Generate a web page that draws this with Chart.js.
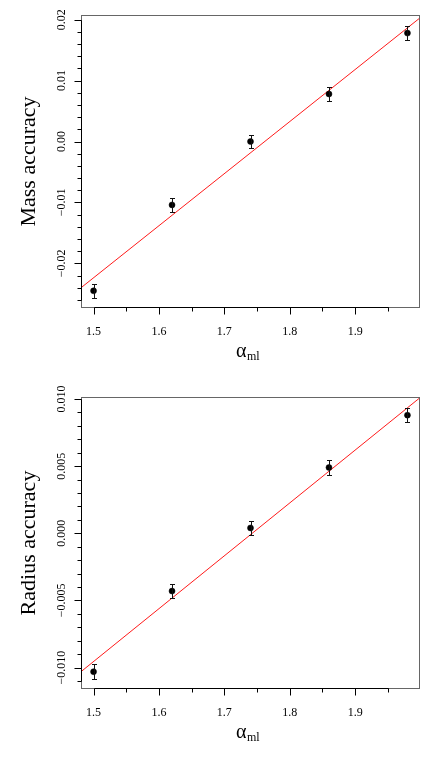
<!DOCTYPE html>
<html>
<head>
<meta charset="utf-8">
<title>Mass and radius accuracy against alpha_ml</title>
<script src="https://cdn.jsdelivr.net/npm/chart.js@4.4.1/dist/chart.umd.min.js"></script>
<style>
    body { margin: 0; background: #fff; }
    canvas { display: block; }
</style>
</head>
<body>
<canvas id="massChart" width="436" height="381"></canvas>
<canvas id="radiusChart" width="436" height="382"></canvas>
<script>
// ============================
// Data
// ============================
const alphaMl = [1.50, 1.62, 1.74, 1.86, 1.98];

const massAccuracy = [-0.0245, -0.0104, 0.0000, 0.0078, 0.0178];
const massError = [0.0011, 0.0011, 0.0011, 0.0011, 0.0011];
const massFit = [-0.0240, 0.0203];

const radiusAccuracy = [-0.0103, -0.0043, 0.0004, 0.0049, 0.0088];
const radiusError = [0.00055, 0.00055, 0.00055, 0.00055, 0.00053];
const radiusFit = [-0.0103, 0.0101];

// x axis range and ticks (fit line is drawn over the whole range)
const xRange = [1.4808, 1.9992];
const xTicks = [1.5, 1.55, 1.6, 1.65, 1.7, 1.75, 1.8, 1.85, 1.9, 1.95];
const xMajorTicks = [1.5, 1.6, 1.7, 1.8, 1.9];
const xTickLabels = ['1.5', '1.6', '1.7', '1.8', '1.9'];

// y axes
const massRange = [-0.02732, 0.02077];
const massTicks = [-0.026, -0.024, -0.022, -0.02, -0.018, -0.016, -0.014, -0.012, -0.01, -0.008, -0.006, -0.004, -0.002,
    0, 0.002, 0.004, 0.006, 0.008, 0.01, 0.012, 0.014, 0.016, 0.018, 0.02];
const massMajorTicks = [-0.02, -0.01, 0, 0.01, 0.02];
const massTickLabels = ['\u22120.02', '\u22120.01', '0.00', '0.01', '0.02'];

const radiusRange = [-0.01159, 0.01015];
const radiusTicks = [-0.011, -0.01, -0.009, -0.008, -0.007, -0.006, -0.005, -0.004, -0.003, -0.002, -0.001,
    0, 0.001, 0.002, 0.003, 0.004, 0.005, 0.006, 0.007, 0.008, 0.009, 0.01];
const radiusMajorTicks = [-0.01, -0.005, 0, 0.005, 0.01];
const radiusTickLabels = ['\u22120.010', '\u22120.005', '0.000', '0.005', '0.010'];

const SERIF = '"Liberation Serif", "Times New Roman", serif';

function isMajor(v, majors) {
    return majors.some(m => Math.abs(m - v) < 1e-9);
}

// ============================
// R-like axes, box, error bars
// ============================
const rStyleAxes = {
    id: 'rStyleAxes',
    afterDatasetsDraw(chart, args, opts) {
        const ctx = chart.ctx;
        const xs = chart.scales.x, ys = chart.scales.y;
        ctx.save();
        ctx.strokeStyle = '#111';
        ctx.lineWidth = 1;
        chart.data.datasets[0].data.forEach((p, i) => {
            const px = Math.round(xs.getPixelForValue(p.x)) + 0.5;
            const top = Math.round(ys.getPixelForValue(p.y + opts.errors[i])) + 0.5;
            const bot = Math.round(ys.getPixelForValue(p.y - opts.errors[i])) + 0.5;
            ctx.beginPath();
            ctx.moveTo(px, top); ctx.lineTo(px, bot);
            ctx.moveTo(px - 2.5, top); ctx.lineTo(px + 2.5, top);
            ctx.moveTo(px - 2.5, bot); ctx.lineTo(px + 2.5, bot);
            ctx.stroke();
        });
        ctx.restore();
    },
    afterDraw(chart, args, opts) {
        const ctx = chart.ctx;
        const a = chart.chartArea;
        const xs = chart.scales.x, ys = chart.scales.y;
        const left = a.left + 0.5, bottom = a.bottom - 0.5;

        ctx.save();
        // box
        ctx.strokeStyle = '#666';
        ctx.lineWidth = 1;
        ctx.strokeRect(a.left + 0.5, a.top + 0.5, a.right - a.left - 1, a.bottom - a.top - 1);

        ctx.strokeStyle = '#000';
        // y axis line + ticks
        const yPix = opts.yTicks.map(v => Math.round(ys.getPixelForValue(v)) + 0.5);
        ctx.beginPath();
        ctx.moveTo(left, Math.min(...yPix));
        ctx.lineTo(left, Math.max(...yPix));
        opts.yTicks.forEach((v, i) => {
            const len = isMajor(v, opts.yMajor) ? 7 : 4;
            ctx.moveTo(left - len, yPix[i]);
            ctx.lineTo(left, yPix[i]);
        });
        // x axis line + ticks
        const xPix = xTicks.map(v => Math.round(xs.getPixelForValue(v)) + 0.5);
        ctx.moveTo(Math.min(...xPix), bottom);
        ctx.lineTo(Math.max(...xPix), bottom);
        xTicks.forEach((v, i) => {
            const len = isMajor(v, xMajorTicks) ? 7 : 4;
            ctx.moveTo(xPix[i], bottom);
            ctx.lineTo(xPix[i], bottom + len);
        });
        ctx.stroke();

        ctx.fillStyle = '#000';
        ctx.font = '12px ' + SERIF;
        ctx.textAlign = 'center';
        ctx.textBaseline = 'alphabetic';
        // x tick labels
        xMajorTicks.forEach((v, i) => {
            ctx.fillText(xTickLabels[i], xs.getPixelForValue(v), a.bottom + 27);
        });
        // y tick labels, parallel to the axis
        opts.yMajor.forEach((v, i) => {
            ctx.save();
            ctx.translate(a.left - 16.5, ys.getPixelForValue(v));
            ctx.rotate(-Math.PI / 2);
            ctx.fillText(opts.yLabels[i], 0, 0);
            ctx.restore();
        });
        // y title
        ctx.save();
        ctx.font = '22px ' + SERIF;
        ctx.translate(a.left - 46, (a.top + a.bottom) / 2);
        ctx.rotate(-Math.PI / 2);
        ctx.fillText(opts.yTitle, 0, 0);
        ctx.restore();
        // x title: alpha with subscript ml
        ctx.textAlign = 'left';
        ctx.font = '20px ' + SERIF;
        const wAlpha = ctx.measureText('\u03b1').width;
        ctx.font = '12px ' + SERIF;
        const wSub = ctx.measureText('ml').width;
        const x0 = (a.left + a.right) / 2 - 3 - (wAlpha + wSub) / 2;
        const base = a.bottom + 48.5;
        ctx.font = '20px ' + SERIF;
        ctx.fillText('\u03b1', x0, base);
        ctx.font = '12px ' + SERIF;
        ctx.fillText('ml', x0 + wAlpha + 0.5, base + 3.5);
        ctx.restore();
    }
};

function dessinerPanneau(canvasId, yValues, yErrors, fitValues, yRange, yTicks, yMajor, yLabels, yTitle, padding) {
    const ctx = document.getElementById(canvasId).getContext('2d');
    return new Chart(ctx, {
        type: 'scatter',
        data: {
            datasets: [
                {
                    label: yTitle,
                    data: alphaMl.map((x, i) => ({ x: x, y: yValues[i] })),
                    backgroundColor: '#000',
                    borderColor: '#000',
                    borderWidth: 0.5,
                    pointRadius: 3,
                    pointHoverRadius: 3
                },
                {
                    label: 'fit',
                    type: 'line',
                    data: xRange.map((x, i) => ({ x: x, y: fitValues[i] })),
                    borderColor: '#ff1a1a',
                    borderWidth: 1,
                    pointRadius: 0,
                    fill: false,
                    showLine: true
                }
            ]
        },
        options: {
            responsive: false,
            animation: false,
            events: [],
            layout: { padding: padding },
            plugins: {
                legend: { display: false },
                tooltip: { enabled: false },
                rStyleAxes: {
                    errors: yErrors,
                    yTicks: yTicks,
                    yMajor: yMajor,
                    yLabels: yLabels,
                    yTitle: yTitle
                }
            },
            scales: {
                x: { type: 'linear', min: xRange[0], max: xRange[1], display: false },
                y: { type: 'linear', min: yRange[0], max: yRange[1], display: false }
            }
        },
        plugins: [rStyleAxes]
    });
}

dessinerPanneau('massChart', massAccuracy, massError, massFit, massRange, massTicks, massMajorTicks, massTickLabels,
    'Mass accuracy', { left: 81, right: 16, top: 15, bottom: 73 });
dessinerPanneau('radiusChart', radiusAccuracy, radiusError, radiusFit, radiusRange, radiusTicks, radiusMajorTicks, radiusTickLabels,
    'Radius accuracy', { left: 81, right: 16, top: 16, bottom: 74 });
</script>
</body>
</html>
